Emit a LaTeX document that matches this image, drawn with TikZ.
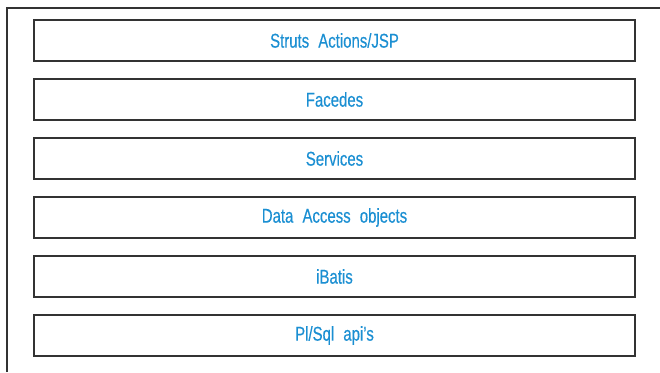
\documentclass[tikz,border=0pt]{standalone}
\usepackage{fontspec}
\setmainfont[FakeStretch=0.75,WordSpace=2.2,FakeBold=0.4]{Liberation Sans}
\definecolor{layerblue}{HTML}{1B8FD2}
\definecolor{framegray}{HTML}{333333}
\begin{document}
\begin{tikzpicture}[x=1bp,y=-1bp,
  layer/.style={draw=framegray,line width=1.3bp,minimum width=601bp,minimum height=41bp,
    inner sep=0pt,text=layerblue,font=\fontsize{20}{23}\selectfont}]
\useasboundingbox (0,0) rectangle (660,372);
% outer frame: only its top and left sides fall inside the page
\draw[framegray,line width=1.2bp] (7,372) -- (7,8) -- (660,8);
% stack of layers, top to bottom
\node[layer] (struts)   at (334.5,40.5)  {Struts Actions/JSP};
\node[layer] (facades)  at (334.5,99.5)  {Facedes};
\node[layer] (services) at (334.5,158.5) {Services};
\node[layer] (dao)      at (334.5,217.5) {Data Access objects};
\node[layer] (ibatis)   at (334.5,276.5) {iBatis};
\node[layer] (plsql)    at (334.5,335.5) {Pl/Sql api’s};
\end{tikzpicture}
\end{document}
